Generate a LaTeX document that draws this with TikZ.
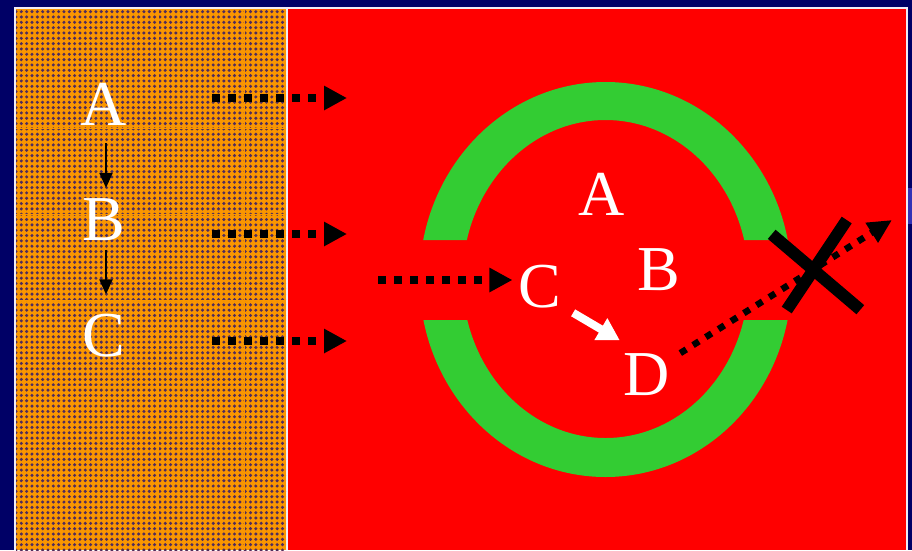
\documentclass[tikz,border=0pt]{standalone}
\usepackage{fontspec}
\setmainfont{Liberation Serif}
\usetikzlibrary{arrows.meta,patterns.meta}

\definecolor{navy}{RGB}{0,0,102}
\definecolor{panelorange}{RGB}{250,150,0}
\definecolor{dotcol}{RGB}{80,44,92}
\definecolor{ringgreen}{RGB}{51,204,51}
\definecolor{slidered}{RGB}{255,0,0}
\definecolor{framewhite}{RGB}{240,236,246}

\begin{document}
\begin{tikzpicture}[x=1pt,y=-1pt,
  letter/.style={text=white,font=\fontsize{64}{64}\selectfont,inner sep=0pt,anchor=base},
  thinarrow/.style={line width=2pt,-{Triangle[length=15pt,width=13pt]}},
  dotarrow/.style={line width=8pt,dash pattern=on 8pt off 8pt,-{Triangle[length=23pt,width=23pt]}},
  diagarrow/.style={line width=6.5pt,dash pattern=on 7pt off 8pt,-{Triangle[length=24pt,width=22pt]}},
  whitearrow/.style={white,line width=8pt,-{Triangle[length=22pt,width=24pt]}},
  crossbar/.style={line width=12pt}
]
% canvas and panels
\useasboundingbox (0,0) rectangle (912,550);
\fill[navy] (0,0) rectangle (912,550);
\fill[navy!60!blue!80!white] (908,188) rectangle (912,224);
\fill[framewhite] (14,7) rectangle (908,550);
\fill[panelorange] (16,9) rectangle (286,550);
\fill[pattern={Dots[radius=1.7pt,distance=5.33pt]},pattern color=dotcol] (16,9) rectangle (286,550);
\foreach \sx in {72,158,244}
  \draw[panelorange,line width=0.5pt] (\sx,9) -- (\sx,550);
\foreach \sy in {41,128,214,300,386,472}
  \draw[panelorange,line width=0.5pt] (16,\sy) -- (286,\sy);
\fill[slidered] (288,9) rectangle (906,550);

% green ring, open on both sides
\begin{scope}
  \clip (400,60) rectangle (820,240) (400,320) rectangle (820,500);
  \fill[ringgreen,even odd rule]
    (605.5,279.5) ellipse [x radius=186,y radius=197.5]
    (605.5,279) ellipse [x radius=143,y radius=159];
\end{scope}

% left column of letters
\node[letter] (lA) at (104,125) {A};
\node[letter] (lB) at (104,240) {B};
\node[letter] (lC) at (104,356) {C};
\draw[thinarrow,shorten <=18pt,shorten >=10pt] ([xshift=2pt]lA.south) -- ([xshift=2pt]lB.north);
\draw[thinarrow,shorten <=10pt,shorten >=19pt] ([xshift=2pt]lB.south) -- ([xshift=2pt]lC.north);

% letters inside the ring
\node[letter] (rA) at (601.5,215) {A};
\node[letter] (rB) at (659,290) {B};
\node[letter] (rC) at (540,307) {C};
\node[letter] (rD) at (647,395) {D};

% dotted arrows leaving the left panel
\coordinate (s1) at (212,98);  \coordinate (e1) at (347,98);
\coordinate (s2) at (212,234); \coordinate (e2) at (347,234);
\coordinate (s3) at (212,341); \coordinate (e3) at (347,341);
\draw[dotarrow] (s1) -- (e1);
\draw[dotarrow] (s2) -- (e2);
\draw[dotarrow] (s3) -- (e3);

% dotted arrow entering through the left gap
\coordinate (s4) at (378,280);
\draw[dotarrow,shorten >=6pt] (s4) -- (s4 -| rC.west);

% C turns into D
\draw[whitearrow] ([shift={(11.6,5)}]rC.south east) -- ([shift={(-3.9,-12.6)}]rD.north west);

% D tries to leave through the right gap
\coordinate (out) at (892,220);
\draw[diagarrow] ([shift={(10,-21)}]rD.east) -- (out);

% blocking cross
\coordinate (x1a) at (771.7,234.3); \coordinate (x1b) at (860.3,309.7);
\coordinate (x2a) at (846.7,220);   \coordinate (x2b) at (786.7,310);
\draw[crossbar] (x1a) -- (x1b);
\draw[crossbar] (x2a) -- (x2b);
\end{tikzpicture}
\end{document}
